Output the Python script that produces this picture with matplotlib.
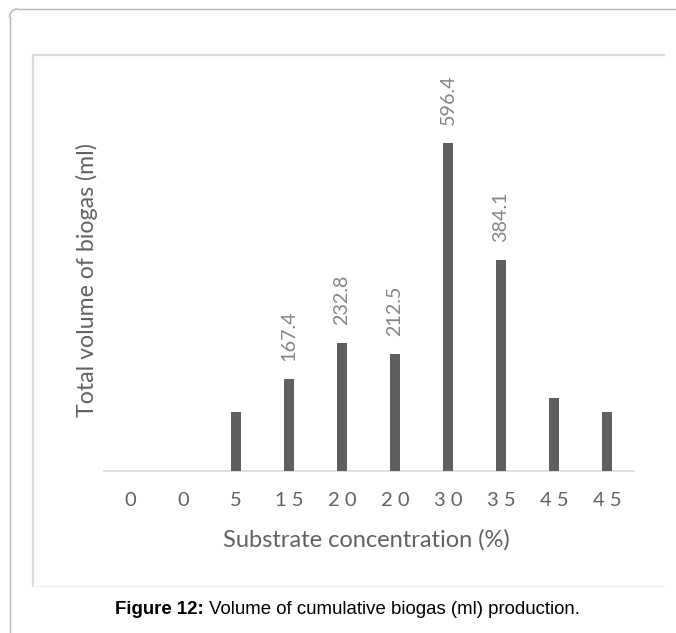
import matplotlib
matplotlib.use("Agg")
import matplotlib.pyplot as plt
from matplotlib.lines import Line2D
from matplotlib.text import Annotation
import numpy as np

categories = ["0", "0", "5", "1 5", "2 0", "2 0", "3 0", "3 5", "4 5", "4 5"]
values = [0, 0, 107, 167.4, 232.8, 212.5, 596.4, 384.1, 133, 108]
labels = ["", "", "", "167.4", "232.8", "212.5", "596.4", "384.1", "", ""]

W, H = 676, 633
fig = plt.figure(figsize=(W / 100, H / 100), dpi=100)
fig.patch.set_facecolor("white")

def fx(px):
    return px / W

def fy(py):
    return 1 - py / H

# outer page border (rounded top-left corner)
r = 8
border = "#b5b5b5"
fig.add_artist(Line2D([fx(9.5), fx(9.5)], [fy(9 + r), fy(H + 5)], transform=fig.transFigure,
                      color=border, lw=1.0))
fig.add_artist(Line2D([fx(9.5 + r), fx(W + 5)], [fy(9), fy(9)], transform=fig.transFigure,
                      color=border, lw=1.0))
th = np.linspace(np.pi / 2, np.pi, 20)
cx, cy = 9.5 + r, 9 + r
fig.add_artist(Line2D(fx(cx + r * np.cos(th)), fy(cy - r * np.sin(th)),
                      transform=fig.transFigure, color=border, lw=1.0))

# inner chart box
fig.add_artist(Line2D([fx(33), fx(33)], [fy(54.5), fy(586)], transform=fig.transFigure,
                      color="#dadada", lw=1.6))
fig.add_artist(Line2D([fx(33), fx(664)], [fy(54.5), fy(54.5)], transform=fig.transFigure,
                      color="#dadada", lw=1.6))
fig.add_artist(Line2D([fx(33), fx(664)], [fy(586), fy(586)], transform=fig.transFigure,
                      color="#f0f0f0", lw=1.0))

# axes
left, right, bottom, top = 103.5, 633.5, 471, 119
ax = fig.add_axes([fx(left), fy(bottom), (right - left) / W, (bottom - top) / H])
x = np.arange(len(categories))
ax.bar(x, values, width=0.19, color="#5e5f5e", zorder=3)
ax.set_xlim(-0.5, len(categories) - 0.5)
ax.set_ylim(0, 640)

font = "Lato"
txt = "#626262"
for xi, v, lab in zip(x, values, labels):
    if lab:
        ax.annotate(lab, xy=(xi, v), xytext=(0, 13), textcoords="offset points",
                    rotation=90, ha="center", va="bottom", fontsize=14.2,
                    color="#858585", family=font)

ax.set_xticks(x)
ax.set_xticklabels(categories, fontsize=14.5, color=txt, family=font)
ax.tick_params(axis="x", length=0, pad=15)
ax.set_yticks([])
for s in ["left", "right", "top"]:
    ax.spines[s].set_visible(False)
ax.spines["bottom"].set_color("#d9d9d9")
ax.spines["bottom"].set_linewidth(1.2)
ax.set_facecolor("none")

ax.set_ylabel("Total volume of biogas (ml)", fontsize=16.7, color=txt, family=font,
              va="center")
ax.yaxis.set_label_coords((87 - left) / (right - left), (bottom - 280) / (bottom - top))
ax.set_xlabel("Substrate concentration (%)", fontsize=17, color=txt, family=font,
              va="center")
ax.xaxis.set_label_coords((366 - left) / (right - left), (bottom - 540) / (bottom - top))

# caption
t1 = fig.text(fx(115), fy(610), "Figure 12:", fontsize=13.4, fontweight="bold",
              family="Liberation Sans", ha="left", va="center", color="black")
fig.add_artist(Annotation(
    " Volume of cumulative biogas (ml) production.", xy=(1, 0), xycoords=t1,
    ha="left", va="bottom", fontsize=13.4, family="Liberation Sans", color="black"))

fig.savefig("out.png", dpi=100, facecolor="white")
